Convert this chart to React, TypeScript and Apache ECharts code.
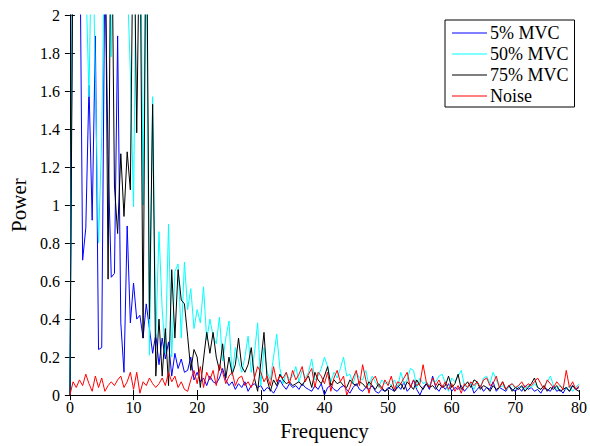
import React, { useEffect, useRef } from "react";
import * as echarts from "echarts";

// Frequency grid (Hz), one value every 0.5 Hz from 0 to 80
const freq: number[] = Array.from({ length: 161 }, (_, i) => i * 0.5);

const xTicks = [0, 10, 20, 30, 40, 50, 60, 70, 80];
const yTicks = [0, 0.2, 0.4, 0.6, 0.8, 1, 1.2, 1.4, 1.6, 1.8, 2];

const seriesNames = ["5% MVC", "50% MVC", "75% MVC", "Noise"];

const mvc5 = [
  0, 2.8, 2.2, 2.7, 0.71, 0.88, 1.63, 0.92, 1.89, 0.24,
  0.25, 2.3, 1.26, 0.62, 0.64, 1.89, 0.38, 0.12, 0.89, 0.38,
  0.59, 0.40, 0.42, 0.30, 0.48, 0.35, 0.22, 0.32, 0.16, 0.30,
  0.19, 0.28, 0.10, 0.22, 0.14, 0.19, 0.12, 0.13, 0.20, 0.08,
  0.12, 0.07, 0.09, 0.05, 0.10, 0.07, 0.06, 0.09, 0.14, 0.08,
  0.05, 0.07, 0.03, 0.06, 0.04, 0.07, 0.02, 0.05, 0.06, 0.04,
  0.05, 0.02, 0.04, 0.03, 0.01, 0.04, 0.08, 0.05, 0.03, 0.06,
  0.04, 0.05, 0.03, 0.06, 0.04, 0.03, 0.02, 0.05, 0.03, 0.06,
  0.00, 0.04, 0.05, 0.03, 0.02, 0.04, 0.05, 0.03, 0.01, 0.04,
  0.06, 0.03, 0.02, 0.04, 0.03, 0.05, 0.02, 0.01, 0.03, 0.02,
  0.04, 0.03, 0.02, 0.05, 0.03, 0.07, 0.02, 0.04, 0.08, 0.03,
  0.00, 0.04, 0.06, 0.03, 0.10, 0.04, 0.02, 0.05, 0.03, 0.06,
  0.02, 0.04, 0.03, 0.05, 0.02, 0.04, 0.06, 0.01, 0.03, 0.05,
  0.02, 0.04, 0.03, 0.07, 0.02, 0.04, 0.03, 0.02, 0.05, 0.03,
  0.02, 0.04, 0.02, 0.05, 0.03, 0.04, 0.02, 0.03, 0.01, 0.04,
  0.03, 0.02, 0.05, 0.02, 0.03, 0.01, 0.04, 0.02, 0.05, 0.03,
  0.04,
];

const mvc50 = [
  0, 2.9, 3.0, 2.5, 2.8, 2.2, 1.57, 2.6, 1.65, 0.8,
  1.36, 2.5, 2.7, 1.78, 2.6, 2.9, 2.4, 3.0, 2.2, 1.7,
  0.99, 2.6, 3.0, 1.0, 2.5, 0.21, 1.57, 0.3, 0.86, 0.45,
  0.22, 0.90, 0.2, 0.65, 0.69, 0.3, 0.70, 0.45, 0.56, 0.35,
  0.45, 0.38, 0.57, 0.29, 0.40, 0.31, 0.27, 0.41, 0.18, 0.30,
  0.39, 0.10, 0.25, 0.18, 0.12, 0.20, 0.31, 0.12, 0.22, 0.38,
  0.05, 0.25, 0.12, 0.08, 0.20, 0.32, 0.14, 0.06, 0.12, 0.08,
  0.10, 0.15, 0.07, 0.13, 0.09, 0.12, 0.19, 0.08, 0.10, 0.14,
  0.20, 0.15, 0.07, 0.12, 0.09, 0.14, 0.20, 0.10, 0.11, 0.06,
  0.12, 0.09, 0.08, 0.13, 0.05, 0.10, 0.07, 0.04, 0.08, 0.06,
  0.07, 0.05, 0.08, 0.04, 0.12, 0.06, 0.08, 0.14, 0.13, 0.04,
  0.09, 0.06, 0.07, 0.05, 0.08, 0.07, 0.10, 0.11, 0.06, 0.02,
  0.09, 0.07, 0.10, 0.13, 0.05, 0.04, 0.06, 0.03, 0.07, 0.04,
  0.09, 0.10, 0.06, 0.12, 0.08, 0.04, 0.05, 0.03, 0.04, 0.06,
  0.03, 0.05, 0.04, 0.03, 0.05, 0.04, 0.06, 0.04, 0.03, 0.05,
  0.07, 0.10, 0.05, 0.03, 0.05, 0.04, 0.03, 0.05, 0.02, 0.04,
  0.06,
];

const mvc75 = [
  0, 2.5, 2.8, 2.6, 2.9, 3.0, 2.7, 2.8, 2.6, 2.9,
  3.0, 2.7, 0.61, 2.8, 1.1, 0.85, 1.27, 0.94, 1.28, 1.08,
  2.7, 1.38, 2.6, 0.30, 2.8, 0.40, 1.53, 0.10, 0.40, 0.10,
  0.35, 0.05, 0.66, 0.30, 0.66, 0.50, 0.48, 0.31, 0.13, 0.24,
  0.20, 0.04, 0.19, 0.33, 0.22, 0.33, 0.20, 0.13, 0.27, 0.09,
  0.20, 0.11, 0.16, 0.30, 0.15, 0.12, 0.16, 0.25, 0.09, 0.02,
  0.17, 0.33, 0.08, 0.02, 0.08, 0.05, 0.11, 0.08, 0.06, 0.07,
  0.05, 0.06, 0.07, 0.05, 0.08, 0.10, 0.04, 0.12, 0.08, 0.06,
  0.10, 0.15, 0.05, 0.08, 0.06, 0.07, 0.05, 0.04, 0.08, 0.06,
  0.05, 0.07, 0.06, 0.04, 0.07, 0.05, 0.03, 0.06, 0.04, 0.02,
  0.03, 0.05, 0.02, 0.04, 0.06, 0.03, 0.07, 0.05, 0.03, 0.08,
  0.05, 0.03, 0.06, 0.04, 0.05, 0.03, 0.06, 0.04, 0.05, 0.10,
  0.04, 0.06, 0.11, 0.03, 0.05, 0.07, 0.04, 0.08, 0.07, 0.03,
  0.05, 0.04, 0.02, 0.05, 0.03, 0.04, 0.07, 0.03, 0.05, 0.02,
  0.04, 0.03, 0.05, 0.02, 0.04, 0.06, 0.09, 0.04, 0.03, 0.05,
  0.02, 0.04, 0.03, 0.05, 0.02, 0.03, 0.04, 0.02, 0.05, 0.03,
  0.02,
];

const noise = [
  0, 0.07, 0.04, 0.08, 0.05, 0.11, 0.06, 0.02, 0.10, 0.04,
  0.09, 0.02, 0.05, 0.07, 0.05, 0.08, 0.10, 0.04, 0.07, 0.12,
  0.03, 0.12, 0.01, 0.07, 0.05, 0.09, 0.06, 0.04, 0.06, 0.09,
  0.05, 0.12, 0.07, 0.10, 0.04, 0.07, 0.03, 0.02, 0.08, 0.13,
  0.06, 0.15, 0.04, 0.12, 0.08, 0.13, 0.05, 0.16, 0.12, 0.06,
  0.10, 0.12, 0.05, 0.09, 0.10, 0.05, 0.07, 0.04, 0.09, 0.15,
  0.12, 0.07, 0.10, 0.05, 0.15, 0.07, 0.10, 0.09, 0.12, 0.06,
  0.13, 0.08, 0.11, 0.15, 0.07, 0.11, 0.14, 0.04, 0.12, 0.10,
  0.06, 0.12, 0.02, 0.09, 0.13, 0.07, 0.10, 0.00, 0.04, 0.09,
  0.13, 0.05, 0.16, 0.08, 0.01, 0.08, 0.10, 0.05, 0.03, 0.08,
  0.05, 0.10, 0.03, 0.07, 0.06, 0.09, 0.12, 0.04, 0.08, 0.05,
  0.06, 0.16, 0.07, 0.04, 0.09, 0.05, 0.08, 0.04, 0.07, 0.03,
  0.06, 0.02, 0.05, 0.01, 0.06, 0.04, 0.07, 0.05, 0.07, 0.04,
  0.08, 0.09, 0.05, 0.06, 0.10, 0.04, 0.07, 0.03, 0.05, 0.06,
  0.04, 0.05, 0.07, 0.04, 0.06, 0.05, 0.07, 0.09, 0.06, 0.03,
  0.08, 0.06, 0.04, 0.07, 0.05, 0.03, 0.13, 0.04, 0.07, 0.03,
  0.05,
];

const colors = ["#0000ff", "#00ffff", "#000000", "#ff0000"];
const FONT = "Liberation Serif";

export default function App() {
  const ref = useRef<HTMLDivElement>(null);
  useEffect(() => {
    if (!ref.current) return;
    const chart = echarts.init(ref.current, null, { renderer: "svg" });
    const allData = [mvc5, mvc50, mvc75, noise];
    const series = allData.map((vals, k) => ({
      name: seriesNames[k],
      type: "line" as const,
      color: colors[k],
      data: freq.map((f, i) => [f, vals[i]]),
      symbol: "none",
      showSymbol: false,
      clip: true,
      lineStyle: { width: 1 },
      xAxisIndex: 0,
      yAxisIndex: 0,
    }));
    const axisLine = { show: true, lineStyle: { color: "#000", width: 1 } };
    const tick = { show: true, inside: true, length: 5, lineStyle: { color: "#000" } };
    const labelStyle = { color: "#000", fontSize: 16, fontFamily: FONT };
    chart.setOption({
      animation: false,
      color: colors,
      backgroundColor: "#fff",
      textStyle: { fontFamily: FONT },
      grid: { left: 66, right: 11, top: 15, bottom: 46, containLabel: false },
      legend: {
        orient: "vertical",
        left: 445,
        top: 20,
        data: seriesNames,
        icon: "path://M0,0H35V1H0Z",
        itemWidth: 35,
        itemHeight: 1,
        itemGap: 3,
        padding: [4, 6, 2, 7],
        borderColor: "#000",
        borderWidth: 1,
        backgroundColor: "#fff",
        textStyle: { fontFamily: FONT, fontSize: 18, color: "#000", padding: [0, 0, 0, -2] },
      },
      xAxis: [
        {
          type: "value",
          min: xTicks[0],
          max: xTicks[xTicks.length - 1],
          interval: xTicks[1] - xTicks[0],
          position: "bottom",
          axisLine,
          axisTick: tick,
          splitLine: { show: false },
          axisLabel: { ...labelStyle, margin: 4 },
          name: "Frequency",
          nameLocation: "middle",
          nameGap: 24,
          nameTextStyle: { color: "#000", fontSize: 21, fontFamily: FONT },
        },
        {
          type: "value",
          min: xTicks[0],
          max: xTicks[xTicks.length - 1],
          interval: xTicks[1] - xTicks[0],
          position: "top",
          axisLine,
          axisTick: tick,
          splitLine: { show: false },
          axisLabel: { show: false },
        },
      ],
      yAxis: [
        {
          type: "value",
          min: yTicks[0],
          max: yTicks[yTicks.length - 1],
          interval: yTicks[1] - yTicks[0],
          position: "left",
          axisLine,
          axisTick: tick,
          splitLine: { show: false },
          axisLabel: { ...labelStyle, margin: 10 },
          name: "Power",
          nameLocation: "middle",
          nameGap: 40,
          nameTextStyle: { color: "#000", fontSize: 21, fontFamily: FONT },
        },
        {
          type: "value",
          min: yTicks[0],
          max: yTicks[yTicks.length - 1],
          interval: yTicks[1] - yTicks[0],
          position: "right",
          axisLine,
          axisTick: tick,
          splitLine: { show: false },
          axisLabel: { show: false },
        },
      ],
      series,
    });
    return () => chart.dispose();
  }, []);
  return <div ref={ref} style={{ width: 590, height: 446, position: "absolute", left: 0, top: 0 }} />;
}
